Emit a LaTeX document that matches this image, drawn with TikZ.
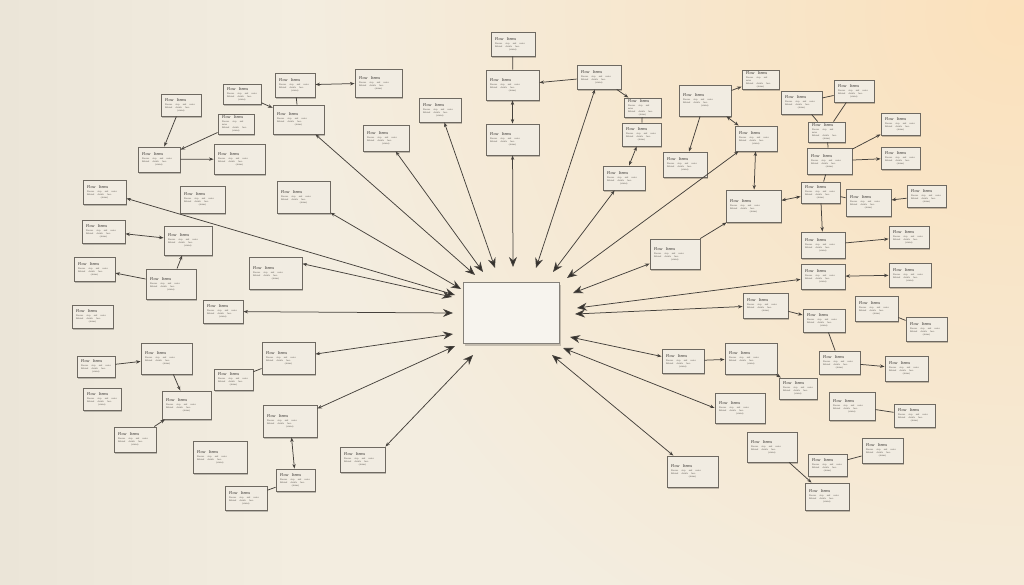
\documentclass[tikz,border=0pt]{standalone}
\usepackage{fontspec}
\setmainfont{Liberation Serif}
\usetikzlibrary{arrows.meta,shadows}
\definecolor{bgc}{HTML}{F3EDE0}
\definecolor{bgl}{HTML}{EBE5D8}
\definecolor{glow}{HTML}{FBE1BC}
\definecolor{boxf}{HTML}{F1ECE2}
\definecolor{boxd}{HTML}{6E6961}
\definecolor{lnc}{HTML}{45413C}
\definecolor{tipc}{HTML}{33302C}
\definecolor{txt}{HTML}{2F2C29}
\definecolor{txtb}{HTML}{55514B}
\tikzset{
 bx/.style={draw=boxd, line width=0.9pt, fill=boxf, inner xsep=4pt, inner ysep=1pt, text=txt,
   drop shadow={shadow xshift=1.3pt, shadow yshift=-1.6pt, opacity=0.22, fill=black}},
 cbox/.style={draw=boxd!85, line width=0.9pt, fill=boxf!60!white,
   drop shadow={shadow xshift=2pt, shadow yshift=-2.5pt, opacity=0.2, fill=black}},
 ln/.style={draw=lnc, line width=0.75pt},
 pl/.style={ln},
 ar/.style={ln, -{Stealth[length=4.5pt,width=3.4pt]}},
 da/.style={ln, {Stealth[length=4.5pt,width=3.4pt]}-{Stealth[length=4.5pt,width=3.4pt]}},
 cl/.style={ln, {Stealth[length=4.5pt,width=3.4pt]}-{Stealth[length=10pt,width=8pt,fill=tipc]}}
}
\newcommand\bxtxt{\raggedright{\fontsize{4.2}{4.8}\selectfont Flow Items\par}\vspace{0.8pt}%
{\color{txtb}\fontsize{2.4}{3.0}\selectfont Process step and notes\par Related details here\par}%
{\centering\color{txtb}\fontsize{2.4}{3.0}\selectfont (status)\par}}
\newcommand\B[5]{%
  \pgfmathsetmacro\bcx{(#2+#4)/2}%
  \pgfmathsetmacro\bcy{(#3+#5)/2}%
  \pgfmathsetmacro\bw{#4-#2}%
  \pgfmathsetmacro\bh{#5-#3}%
  \pgfmathsetmacro\btw{#4-#2-8}%
  \node[bx,minimum width=\bw pt,minimum height=\bh pt,text width=\btw pt] (#1) at (\bcx,\bcy) {\bxtxt};%
}
\begin{document}
\begin{tikzpicture}[x=1pt,y=-1pt]
\useasboundingbox (0,0) rectangle (1024,585);
% background
\fill[bgc] (0,0) rectangle (1024,585);
\shade[left color=bgl, right color=bgc] (0,0) rectangle (300,585);
\begin{scope}
\clip (0,0) rectangle (1024,585);
\shade[inner color=glow, outer color=bgc] (1015,15) circle [radius=720pt];
\end{scope}
% left boxes
\B{a1}{161}{94}{201}{116}
\B{a2}{223}{84}{261}{104}
\B{a3}{275}{73}{315}{97}
\B{a4}{355}{69}{402}{97}
\B{a5}{273}{105}{324}{134}
\B{a6}{218}{114}{254}{134}
\B{a7}{138}{147}{180}{172}
\B{a8}{214}{144}{265}{174}
\B{a9}{83}{180}{126}{204}
\B{a10}{180}{186}{225}{213}
\B{a11}{277}{181}{330}{213}
\B{a12}{82}{220}{125}{243}
\B{a13}{164}{226}{212}{255}
\B{a14}{74}{257}{115}{281}
\B{a15}{146}{269}{196}{299}
\B{a16}{249}{257}{302}{289}
\B{a17}{203}{300}{243}{323}
\B{a18}{72}{305}{113}{328}
\B{a19}{77}{356}{115}{377}
\B{a20}{141}{343}{192}{374}
\B{a21}{262}{342}{315}{374}
\B{a22}{214}{369}{253}{390}
\B{a23}{83}{388}{121}{410}
\B{a24}{162}{391}{211}{419}
\B{a25}{263}{405}{317}{437}
\B{a26}{114}{427}{156}{452}
\B{a27}{193}{441}{247}{473}
\B{a28}{276}{469}{315}{491}
\B{a29}{225}{486}{267}{510}
\B{a30}{340}{447}{385}{472}
\B{a31}{363}{125}{409}{151}
\B{a32}{419}{98}{461}{122}
% top boxes
\B{t1}{491}{32}{535}{56}
\B{t2}{486}{70}{539}{100}
\B{t3}{486}{124}{539}{155}
\B{t4}{577}{65}{621}{89}
\B{t5}{624}{98}{661}{117}
\B{t6}{622}{123}{661}{146}
\B{t7}{603}{166}{645}{190}
% right boxes
\B{r1}{679}{85}{731}{116}
\B{r2}{742}{70}{779}{89}
\B{r3}{663}{152}{707}{177}
\B{r4}{735}{126}{777}{151}
\B{r5}{726}{190}{781}{222}
\B{r6}{650}{239}{700}{269}
\B{s1}{781}{91}{822}{114}
\B{s2}{834}{80}{874}{102}
\B{s3}{808}{122}{845}{142}
\B{s4}{807}{148}{852}{174}
\B{s5}{881}{113}{920}{135}
\B{s6}{881}{147}{920}{169}
\B{s7}{801}{182}{840}{203}
\B{s8}{846}{189}{891}{216}
\B{s9}{907}{185}{946}{207}
\B{s10}{801}{232}{845}{258}
\B{s11}{889}{226}{929}{248}
\B{s12}{801}{264}{845}{289}
\B{s13}{889}{263}{931}{287}
\B{u1}{743}{293}{788}{318}
\B{u2}{855}{296}{898}{321}
\B{u3}{803}{309}{845}{332}
\B{u4}{906}{317}{947}{341}
\B{u5}{662}{349}{704}{373}
\B{u6}{725}{343}{777}{374}
\B{u7}{819}{351}{860}{374}
\B{u8}{779}{378}{817}{399}
\B{u9}{885}{356}{928}{381}
\B{u10}{829}{392}{875}{420}
\B{u11}{894}{404}{935}{427}
\B{u12}{715}{393}{765}{423}
\B{u13}{747}{432}{797}{462}
\B{u14}{862}{438}{903}{463}
\B{u15}{808}{454}{847}{476}
\B{u16}{667}{456}{718}{487}
\B{u17}{805}{483}{849}{510}
% central box
\node[cbox, minimum width=96pt, minimum height=61pt] (ctr) at (511,312.5) {};
% arrow tips around the centre
\coordinate (p1) at (475,275);
\coordinate (p2) at (483,272);
\coordinate (p3) at (495,268);
\coordinate (p4) at (513,267);
\coordinate (p5) at (536,268);
\coordinate (p6) at (553,272);
\coordinate (p7) at (567,278);
\coordinate (p8) at (573,293);
\coordinate (p9) at (577,308);
\coordinate (p10) at (575,314);
\coordinate (p11) at (570,337);
\coordinate (p12) at (563,348);
\coordinate (p13) at (552,355);
\coordinate (p14) at (473,355);
\coordinate (p15) at (455,346);
\coordinate (p16) at (453,334);
\coordinate (p17) at (453,313);
\coordinate (p18) at (452,297);
\coordinate (p19) at (455,295);
\coordinate (p20) at (461,289);
% connectors to the centre
\draw[cl] (a5) -- (p1);
\draw[cl] (a31) -- (p2);
\draw[cl] (a32) -- (p3);
\draw[cl] (t3) -- (p4);
\draw[cl] (t4) -- (p5);
\draw[cl] (t7) -- (p6);
\draw[cl] (r4) -- (p7);
\draw[cl] (r6) -- (p8);
\draw[cl] (s12) -- (p9);
\draw[cl] (u1) -- (p10);
\draw[cl] (u5) -- (p11);
\draw[cl] (u12.west) -- (p12);
\draw[cl] (u16) -- (p13);
\draw[cl] (a30.north east) -- (p14);
\draw[cl] (a25) -- (p15);
\draw[cl] (a21) -- (p16);
\draw[cl] (a17) -- (p17);
\draw[cl] (a16.19) -- (p18);
\draw[cl] (a9) -- (p19);
\draw[cl] (a11) -- (p20);
% left connectors
\draw[da] (a4) -- (a3);
\draw[ar] (a2) -- (a5);
\draw[pl] (a3) -- (a5);
\draw[ar] (a1) -- (a7);
\draw[ar] (a6) -- (a7);
\draw[ar] (a7) -- (a8);
\draw[da] (a12) -- (a13);
\draw[ar] (a15) -- (a13);
\draw[ar] (a15) -- (a14);
\draw[ar] (a19) -- (a20);
\draw[ar] (a20) -- (a24);
\draw[ar] (a26) -- (a24);
\draw[pl] (a22) -- (a21);
\draw[da] (a25) -- (a28);
\draw[pl] (a29) -- (a28);
% top connectors
\draw[pl] (t1) -- (t2);
\draw[da] (t2) -- (t3);
\draw[ar] (t4) -- (t2);
\draw[ar] (t4) -- (t5);
\draw[pl] (t5) -- (t6);
\draw[da] (t6) -- (t7);
% right connectors
\draw[ar] (r1) -- (r3);
\draw[ar] (r1) -- (r2);
\draw[da] (r1) -- (r4);
\draw[da] (r4) -- (r5);
\draw[ar] (r6) -- (r5);
\draw[da] (r5) -- (s7);
\draw[pl] (s1) -- (s2);
\draw[pl] (s1) -- (s3);
\draw[pl] (s2) -- (s3);
\draw[pl] (s3) -- (s4);
\draw[ar] (s4) -- (s5);
\draw[ar] (s4) -- (s6);
\draw[pl] (s4) -- (s7);
\draw[pl] (s7) -- (s8);
\draw[ar] (s9) -- (s8);
\draw[ar] (s7) -- (s10);
\draw[ar] (s10) -- (s11);
\draw[da] (s12) -- (s13);
\draw[ar] (u1) -- (u3);
\draw[pl] (u2) -- (u4);
\draw[pl] (u3) -- (u7);
\draw[ar] (u7) -- (u9);
\draw[ar] (u5) -- (u6);
\draw[ar] (u6) -- (u8);
\draw[pl] (u10) -- (u11);
\draw[ar] (u13) -- (u17);
\draw[pl] (u15) -- (u14);
\end{tikzpicture}
\end{document}
